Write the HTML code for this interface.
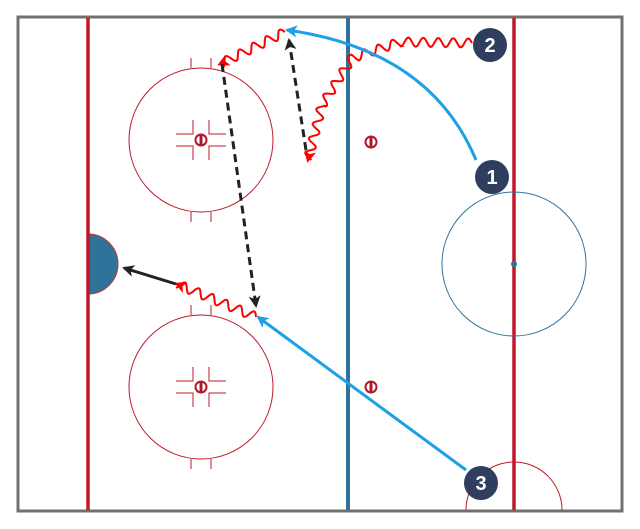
<!DOCTYPE html>
<html><head><meta charset="utf-8"><style>
html,body{margin:0;padding:0;background:#fff;width:640px;height:529px;overflow:hidden}
svg{display:block}
text{font-family:"Liberation Sans",sans-serif;font-weight:bold;font-size:20px;fill:#fff;text-anchor:middle}
</style></head><body>
<svg id="s" width="640" height="529" viewBox="0 0 640 529">
<defs>
<marker id="ar" markerWidth="12" markerHeight="12" refX="9" refY="6" orient="auto" markerUnits="userSpaceOnUse"><path d="M0,0 L12,6 L0,12 L3,6 Z" fill="#ff0000"/></marker>
<marker id="ab" markerWidth="12" markerHeight="12" refX="10" refY="6" orient="auto" markerUnits="userSpaceOnUse"><path d="M0,0 L12,6 L0,12 L3,6 Z" fill="#1ea0e8"/></marker>
<marker id="ak" markerWidth="12" markerHeight="12" refX="10" refY="6" orient="auto" markerUnits="userSpaceOnUse"><path d="M0,0 L12,6 L0,12 L3,6 Z" fill="#222"/></marker>
</defs>
<rect x="18" y="17" width="604" height="494" fill="#fff" stroke="#707070" stroke-width="3"/>
<path d="M88,234 A30,30 0 0 1 88,294 Z" fill="#2e7399" stroke="#c0392b" stroke-width="1"/>
<line x1="88" y1="18" x2="88" y2="510" stroke="#c0182a" stroke-width="3.5"/>
<line x1="514" y1="18" x2="514" y2="510" stroke="#c0182a" stroke-width="3.5"/>
<line x1="348" y1="18" x2="348" y2="510" stroke="#2e7399" stroke-width="4"/>
<g fill="none" stroke="#c0182a" stroke-width="1">
<circle cx="201" cy="140" r="72"/>
<circle cx="201" cy="387" r="72"/>
<path d="M466,510 A48,48 0 0 1 562,510"/>
</g>
<circle cx="514" cy="264" r="72" fill="none" stroke="#2e7399" stroke-width="1"/>
<circle cx="514" cy="264" r="3" fill="#2e7399"/>
<g id="fo"></g>
<g id="w" fill="none" stroke="#ff0000" stroke-width="2"></g>
<path d="M476,160 Q430,50 287,30" fill="none" stroke="#1ea0e8" stroke-width="3" marker-end="url(#ab)"/>
<line x1="466" y1="470" x2="258" y2="317" stroke="#1ea0e8" stroke-width="3" marker-end="url(#ab)"/>
<line x1="222" y1="64" x2="256" y2="306" stroke="#222" stroke-width="3" stroke-dasharray="8,5" marker-end="url(#ak)"/>
<line x1="306" y1="150" x2="289" y2="40" stroke="#222" stroke-width="3" stroke-dasharray="8,5" marker-end="url(#ak)"/>
<line x1="176" y1="284" x2="124" y2="268" stroke="#222" stroke-width="3" marker-end="url(#ak)"/>
<g fill="#2f3e5e">
<circle cx="490" cy="45" r="17"/><circle cx="492" cy="177" r="17"/><circle cx="481" cy="483" r="17"/>
</g>
<text x="490" y="52">2</text><text x="492" y="184">1</text><text x="481" y="490">3</text>
</svg>
<script>
var ns="http://www.w3.org/2000/svg",s=document.getElementById('s');
function el(p,t,a){var e=document.createElementNS(ns,t);for(var k in a)e.setAttribute(k,a[k]);p.appendChild(e);return e;}
function wave(pts,amp,wl){
 var d="",first=true,acc=0;
 for(var i=0;i<pts.length-1;i++){
  var a=pts[i],b=pts[i+1],dx=b[0]-a[0],dy=b[1]-a[1],L=Math.hypot(dx,dy),nx=-dy/L,ny=dx/L;
  for(var t=0;t<=L;t+=1){
   var ph=(acc+t)/wl*2*Math.PI,o=amp*Math.sin(ph);
   var x=a[0]+dx*t/L+nx*o,y=a[1]+dy*t/L+ny*o;
   d+=(first?"M":"L")+x.toFixed(1)+","+y.toFixed(1);first=false;}
  acc+=L;}
 return d;}
var g=document.getElementById('w');
function wv(pts){el(g,'path',{d:wave(pts,4.5,15)});var n=pts.length,a=pts[n-2],b=pts[n-1];
 var dx=b[0]-a[0],dy=b[1]-a[1],L=Math.hypot(dx,dy);
 el(g,'line',{x1:b[0]-2*dx/L,y1:b[1]-2*dy/L,x2:b[0],y2:b[1],'marker-end':'url(#ar)'});}
wv([[472,43],[400,42],[352,58],[322,105],[308,160]]);
wv([[285,32],[220,64]]);
wv([[256,317],[177,284]]);
var fo=document.getElementById('fo');
function face(cx,cy,cc){
 var st={stroke:"#c0182a","stroke-width":1,fill:"none"};
 if(cc){
 [-10,10].forEach(function(h){
  el(fo,'line',Object.assign({x1:cx+h,y1:cy-72,x2:cx+h,y2:cy-82},st));
  el(fo,'line',Object.assign({x1:cx+h,y1:cy+72,x2:cx+h,y2:cy+82},st));});
 [[-1,-1],[1,-1],[-1,1],[1,1]].forEach(function(q){
  var x=cx+q[0]*8,y=cy+q[1]*6;
  el(fo,'path',Object.assign({d:"M"+(x+q[0]*17)+","+y+" H"+x+" V"+(y+q[1]*14)},st));});}
 el(fo,'circle',{cx:cx,cy:cy,r:5.5,fill:"#fff",stroke:"#b0182a","stroke-width":2});
 el(fo,'rect',{x:cx-1.5,y:cy-5,width:3,height:10,fill:"#b0182a"});}
face(201,140,1);face(201,387,1);face(371,142,0);face(371,387,0);
</script>
</body></html>
